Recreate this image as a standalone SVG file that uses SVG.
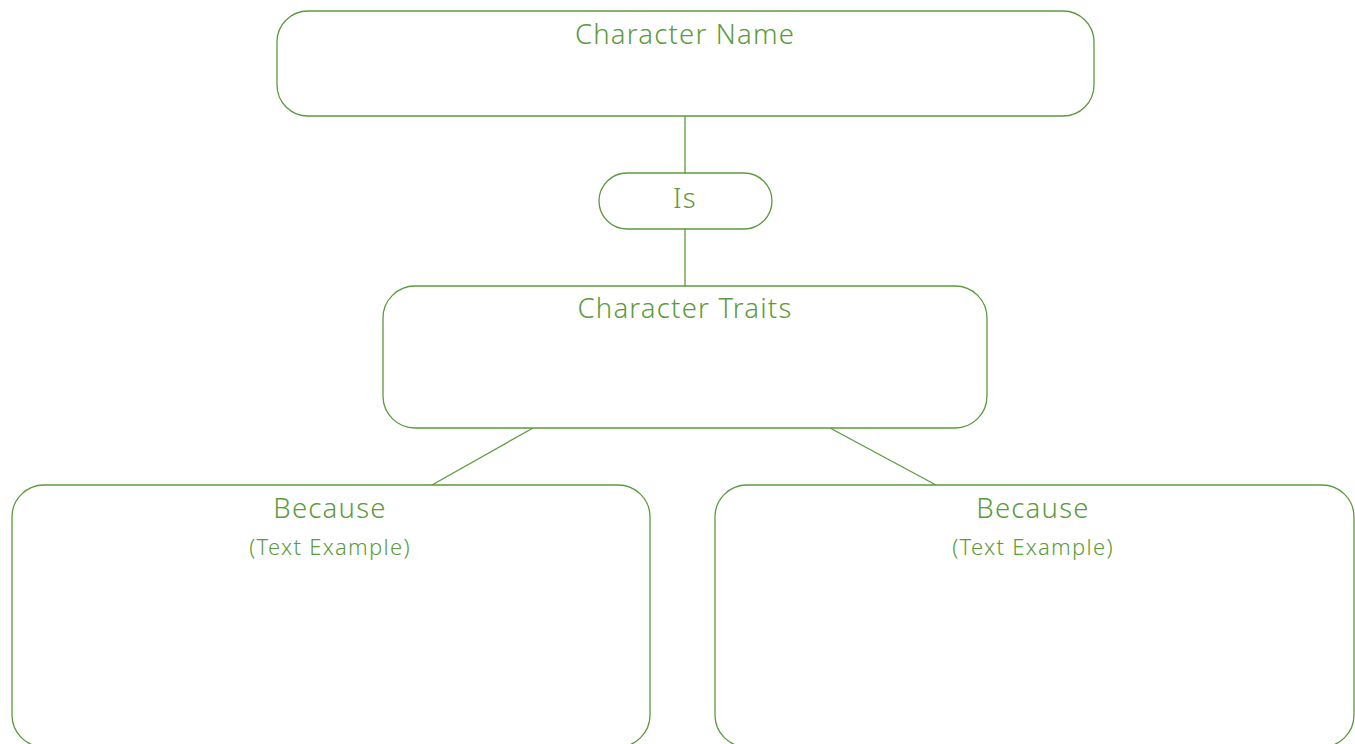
<svg xmlns="http://www.w3.org/2000/svg" width="1355" height="744" viewBox="0 0 1355 744">
<style>
.box{fill:#fff;stroke:#5b9b3c;stroke-width:1.3}
.ln{stroke:#5b9b3c;stroke-width:1.3;fill:none}
.t{fill:#5b9b3c;font-family:"Noto Sans","Open Sans",sans-serif;font-weight:300;text-anchor:middle}
.h{font-size:27.5px;letter-spacing:1.2px}
.s{font-size:22px;letter-spacing:1.3px}
</style>
<rect width="1355" height="744" fill="#fff"/>
<g id="connectors">
<line class="ln" x1="685" y1="116" x2="685" y2="173"/>
<line class="ln" x1="685" y1="229" x2="685" y2="286"/>
<line class="ln" x1="533" y1="428" x2="432" y2="485"/>
<line class="ln" x1="830" y1="428" x2="936" y2="485"/>
</g>
<g id="character-name">
<rect class="box" x="277" y="11" width="817" height="105" rx="31"/>
<text class="t h" x="685" y="44">Character Name</text>
</g>
<g id="is">
<rect class="box" x="599" y="173" width="173" height="56" rx="28"/>
<text class="t h" x="685" y="208">Is</text>
</g>
<g id="character-traits">
<rect class="box" x="383" y="286" width="604" height="142" rx="32"/>
<text class="t h" x="685" y="318">Character Traits</text>
</g>
<g id="because-left">
<rect class="box" x="12" y="485" width="638" height="262" rx="32"/>
<text class="t h" x="330" y="518">Because</text>
<text class="t s" x="330" y="555">(Text Example)</text>
</g>
<g id="because-right">
<rect class="box" x="715" y="485" width="639" height="262" rx="32"/>
<text class="t h" x="1033" y="518">Because</text>
<text class="t s" x="1033" y="555">(Text Example)</text>
</g>
</svg>
